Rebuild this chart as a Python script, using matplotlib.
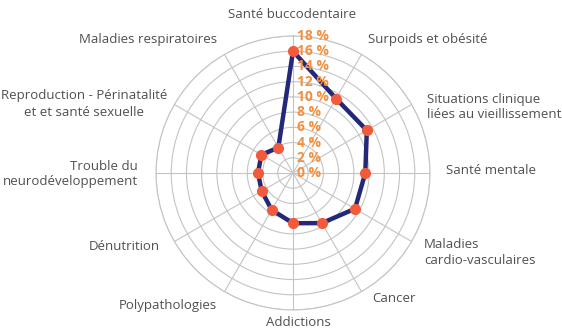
import numpy as np
import matplotlib
matplotlib.use("Agg")
import matplotlib.pyplot as plt
from matplotlib.transforms import offset_copy

plt.rcParams['font.family'] = ['Open Sans', 'DejaVu Sans']

# Thèmes, dans le sens des aiguilles d'une montre depuis le haut
categories = [
    "Santé buccodentaire", "Surpoids et obésité",
    "Situations clinique\nliées au vieillissement", "Santé mentale",
    "Maladies\ncardio-vasculaires", "Cancer", "Addictions",
    "Polypathologies", "Dénutrition", "Trouble du\nneurodéveloppement",
    "Reproduction - Périnatalité\net et santé sexuelle", "Maladies respiratoires",
]
values = [16.0, 11.3, 11.2, 9.5, 9.4, 7.6, 6.6, 5.6, 4.75, 4.6, 4.8, 3.85]
r_ticks = [0, 2, 4, 6, 8, 10, 12, 14, 16, 18]
r_tick_labels = ["%d %%" % t for t in r_ticks]

# position des libellés (pixels) et alignement
label_pos = [
    (292, 15, 'center'), (368, 40, 'left'), (427, 107, 'left'),
    (446, 170, 'left'), (424, 252, 'left'), (372, 298, 'left'),
    (298, 322, 'center'), (217, 306, 'right'), (160, 247, 'right'),
    (138, 174, 'right'), (84, 104, 'center'), (217, 40, 'right'),
]

W, H = 562, 332
fig = plt.figure(figsize=(W / 100, H / 100), dpi=100)
cx, cy, rad = 293, 173, 137
ax = fig.add_axes([(cx - rad) / W, 1 - (cy + rad) / H, 2 * rad / W, 2 * rad / H],
                  projection='polar')
ax.set_theta_zero_location('N')
ax.set_theta_direction(-1)

n = len(categories)
theta = np.arange(n) * 2 * np.pi / n
ax.set_xticks(theta)
ax.set_xticklabels([])
ax.set_ylim(0, 18)
ax.set_yticks(r_ticks[1:])
ax.set_yticklabels([])
ax.grid(True, color='#c4c4c4', linewidth=0.8)
ax.spines['polar'].set_color('#c4c4c4')
ax.spines['polar'].set_linewidth(0.8)

th = np.append(theta, theta[0])
vals = np.append(values, values[0])
ax.plot(th, vals, color='#232878', linewidth=3.2, zorder=3)
ax.plot(theta, values, 'o', color='#f25a3c', markersize=7, zorder=4)

# graduations en orange à droite de l'axe vertical
tr = offset_copy(ax.transData, fig=fig, x=4, y=0, units='dots')
for t, lab in zip(r_ticks, r_tick_labels):
    ax.text(0, t, lab, transform=tr, ha='left', va='center',
            color='#f39040', fontsize=10, fontweight='bold', zorder=5)

for lab, (x, y, ha) in zip(categories, label_pos):
    fig.text(x / W, 1 - y / H, lab, ha=ha, va='center', multialignment=ha,
             color='#505050', fontsize=9.5, linespacing=1.3)

fig.savefig("out.png", dpi=100)
